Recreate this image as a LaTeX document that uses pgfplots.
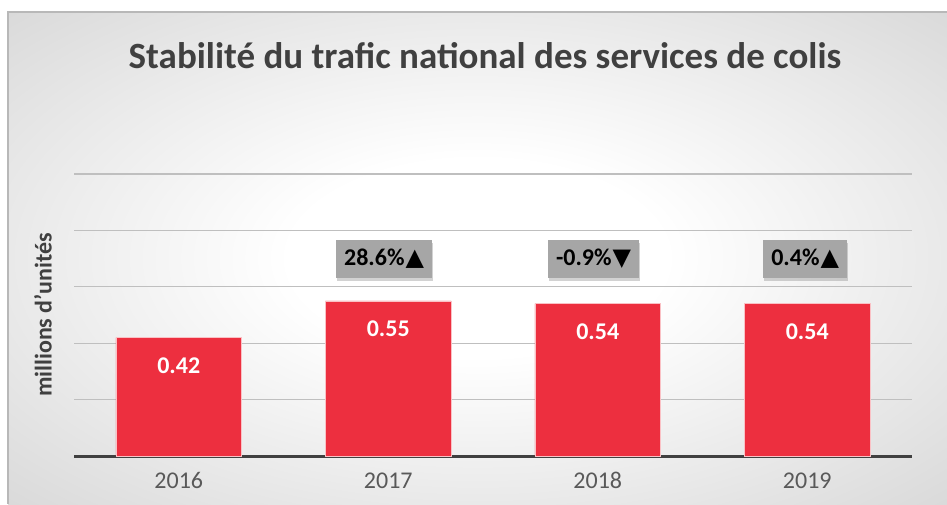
\documentclass[border=0pt]{standalone}
\usepackage{pgfplots}
\pgfplotsset{compat=1.18}
\usepackage{fontspec}
\setmainfont{Carlito}
\newfontfamily\symfont{DejaVu Sans}
\usetikzlibrary{shadows}
\definecolor{barred}{RGB}{237,47,63}
\definecolor{txtgrey}{RGB}{64,64,64}
\definecolor{tickgrey}{RGB}{89,89,89}
\definecolor{boxgrey}{RGB}{166,166,166}
\pgfdeclareradialshading{bgshade}{\pgfpoint{0bp}{0bp}}{color(0bp)=(white); color(10bp)=(white); color(50bp)=(black!23); color(72bp)=(black!34)}
\begin{document}
\begin{tikzpicture}[x=1pt,y=1pt]
\path[use as bounding box] (0,0) rectangle (947,504);
\fill[white] (0,0) rectangle (947,504);
\shade[shading=bgshade] (8,0) rectangle (947,492);
\draw[black!28, line width=1.2pt] (8,0) -- (8,492) -- (947,492);
\node[font=\bfseries\fontsize{37}{42}\selectfont, text=txtgrey] at (485,448) {Stabilité du trafic national des services de colis};
\node[font=\bfseries\fontsize{24}{28}\selectfont, text=txtgrey, rotate=90] at (43,189) {millions d'unités};
\begin{axis}[
  at={(74pt,48pt)}, anchor=south west,
  scale only axis, width=838pt, height=282pt,
  xmin=-0.5, xmax=3.5, ymin=0, ymax=1.0,
  xtick={0,1,2,3}, xticklabels={2016,2017,2018,2019},
  ytick={0,0.2,0.4,0.6,0.8,1.0}, yticklabels={},
  ymajorgrids, grid style={line width=1.3pt, color=black!25},
  axis x line*=bottom, axis y line*=left,
  x axis line style={line width=3pt, color=txtgrey, -},
  y axis line style={draw=none},
  major tick length=0pt,
  xticklabel style={font=\fontsize{24}{28}\selectfont, text=tickgrey, yshift=-13pt},
  clip=false,
]
\addplot[ybar, bar width=0.6, fill=barred, draw=white!70!barred, line width=0.8pt,
  nodes near coords,
  every node near coord/.append style={font=\bfseries\fontsize{24}{28}\selectfont, text=white, anchor=center, yshift=-28pt},
  point meta=explicit symbolic]
coordinates {(0,0.42)[0.42] (1,0.55)[0.55] (2,0.54)[0.54] (3,0.54)[0.54]};
\addplot[draw=none, mark=none, nodes near coords,
  every node near coord/.append style={font=\bfseries\fontsize{24}{28}\selectfont, text=black, anchor=center,
    fill=boxgrey, inner xsep=8pt, minimum height=38pt,
    drop shadow={opacity=0.35, shadow xshift=1pt, shadow yshift=-3pt}},
  point meta=explicit symbolic]
coordinates {(0.98,0.70)[{28.6\%\kern1pt{\symfont\fontsize{24}{28}\selectfont ▲}}] (1.98,0.70)[{-0.9\%\kern1pt{\symfont\fontsize{24}{28}\selectfont ▼}}] (2.99,0.70)[{0.4\%\kern1pt{\symfont\fontsize{24}{28}\selectfont ▲}}]};
\end{axis}
\end{tikzpicture}
\end{document}
